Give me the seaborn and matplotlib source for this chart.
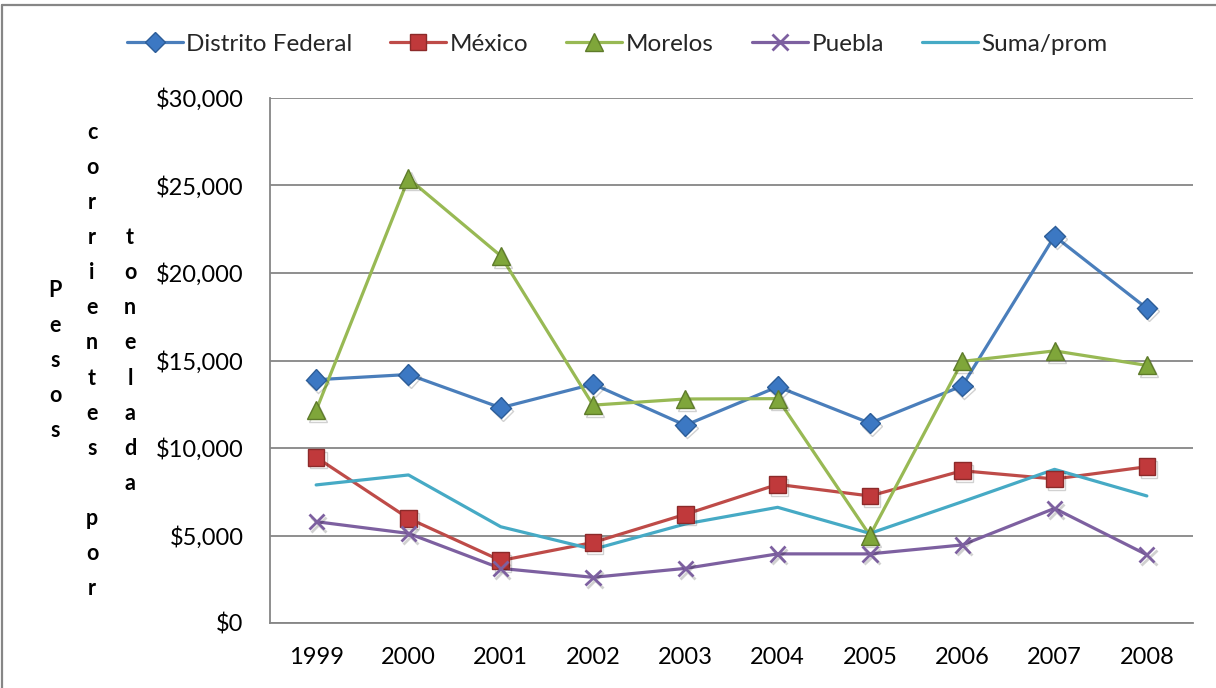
import matplotlib
matplotlib.use("Agg")
import matplotlib.pyplot as plt
import matplotlib.patheffects as pe
from matplotlib.ticker import FuncFormatter, MultipleLocator
from matplotlib.lines import Line2D
import seaborn as sns
import pandas as pd

# Precio medio por tonelada, pesos corrientes
years = ["1999", "2000", "2001", "2002", "2003", "2004", "2005", "2006", "2007", "2008"]
distrito_federal = [13900, 14200, 12300, 13650, 11300, 13500, 11420, 13550, 22100, 17980]
mexico = [9470, 5980, 3570, 4600, 6210, 7920, 7260, 8700, 8230, 8930]
morelos = [12150, 25400, 20980, 12450, 12800, 12820, 5000, 14950, 15550, 14720]
puebla = [5790, 5120, 3120, 2610, 3120, 3950, 3950, 4460, 6550, 3900]
suma_prom = [7890, 8460, 5500, 4210, 5660, 6610, 5120, 6930, 8780, 7260]

series_names = ["Distrito Federal", "México", "Morelos", "Puebla", "Suma/prom"]
series_values = [distrito_federal, mexico, morelos, puebla, suma_prom]
ylabel_columns = ["Pesos", "corrientes\u00a0por", "tonelada"]

colors = ["#4A7EBB", "#BE4B48", "#98B954", "#7D60A0", "#46AAC5"]
marker_faces = ["#3C78C3", "#C0393B", "#7FA63A", "#7D60A0", "none"]
marker_edges = ["#2C5D98", "#8C2A2A", "#5E7B2A", "#7D60A0", "none"]
markers = ["D", "s", "^", "x", ""]
marker_sizes = [10.5, 12, 13, 11, 0]

sns.set_theme(style="white")
plt.rcParams["font.family"] = ["Lato", "DejaVu Sans"]

fig = plt.figure(figsize=(12.16, 6.88), dpi=100)
ax = fig.add_axes([270 / 1216, 65 / 688, 923 / 1216, 525 / 688])

frames = []
for name, vals in zip(series_names, series_values):
    frames.append(pd.DataFrame({"year": years, "pos": range(len(years)),
                                "valor": vals, "serie": name}))
df = pd.concat(frames, ignore_index=True)

shadow = [pe.SimpleLineShadow(offset=(1.5, -2), shadow_color="#000000", alpha=0.18), pe.Normal()]

for i, name in enumerate(series_names):
    sub = df[df["serie"] == name]
    sns.lineplot(data=sub, x="pos", y="valor", ax=ax, color=colors[i], linewidth=2.3,
                 estimator=None, sort=False, legend=False, zorder=3 + i * 0.1)
    if markers[i]:
        mkw = dict(marker=markers[i], markersize=marker_sizes[i], linestyle="none",
                   zorder=4 + i * 0.1)
        if markers[i] == "x":
            mkw.update(color=colors[i], markeredgewidth=2.0)
        else:
            mkw.update(markerfacecolor=marker_faces[i], markeredgecolor=marker_edges[i],
                       markeredgewidth=1.0)
        ln, = ax.plot(sub["pos"], sub["valor"], **mkw)
        ln.set_path_effects(shadow)

ax.set_xlim(-0.5, len(years) - 0.5)
ax.set_ylim(0, 30000)
ax.yaxis.set_major_locator(MultipleLocator(5000))
ax.yaxis.set_major_formatter(FuncFormatter(lambda v, p: f"${v:,.0f}"))
ax.set_xticks(range(len(years)))
ax.set_xticklabels(years)
ax.tick_params(axis="both", length=0, labelsize=17, colors="#000000")
ax.tick_params(axis="y", pad=19)
ax.tick_params(axis="x", pad=17)
ax.set_xlabel("")
ax.set_ylabel("")

ax.grid(axis="y", color="#868686", linewidth=1.3)
ax.grid(axis="x", visible=False)
ax.set_axisbelow(True)
for side in ["top", "right"]:
    ax.spines[side].set_visible(False)
for side in ["left", "bottom"]:
    ax.spines[side].set_color("#868686")
    ax.spines[side].set_linewidth(1.3)

# Stacked vertical axis title
ycenter = (65 + 525 / 2) / 688
for xpx, word in zip([55, 92, 130], ylabel_columns):
    fig.text(xpx / 1216, ycenter, "\n".join(word), ha="center", va="center",
             fontsize=15.5, fontweight="bold", linespacing=1.83, color="#000000")

# Legend
handles = []
for i, name in enumerate(series_names):
    if markers[i] == "x":
        h = Line2D([], [], color=colors[i], linewidth=2.3, marker="x", markersize=11,
                   markeredgewidth=2.0)
    elif markers[i]:
        h = Line2D([], [], color=colors[i], linewidth=2.3, marker=markers[i],
                   markersize=marker_sizes[i], markerfacecolor=marker_faces[i],
                   markeredgecolor=marker_edges[i])
    else:
        h = Line2D([], [], color=colors[i], linewidth=2.3)
    handles.append(h)
fig.legend(handles, series_names, loc="center", bbox_to_anchor=(617 / 1216, 1 - 44 / 688),
           ncol=5, frameon=False, fontsize=17.5, handlelength=2.3, handletextpad=0.15,
           columnspacing=1.56)

# Chart border
fig.add_artist(Line2D([2 / 1216, 2 / 1216], [0, 1 - 5 / 688], color="#868686", linewidth=1.6,
                      transform=fig.transFigure))
fig.add_artist(Line2D([2 / 1216, 1], [1 - 5 / 688, 1 - 5 / 688], color="#868686",
                      linewidth=1.6, transform=fig.transFigure))

fig.savefig("out.png", dpi=100, facecolor="white")
